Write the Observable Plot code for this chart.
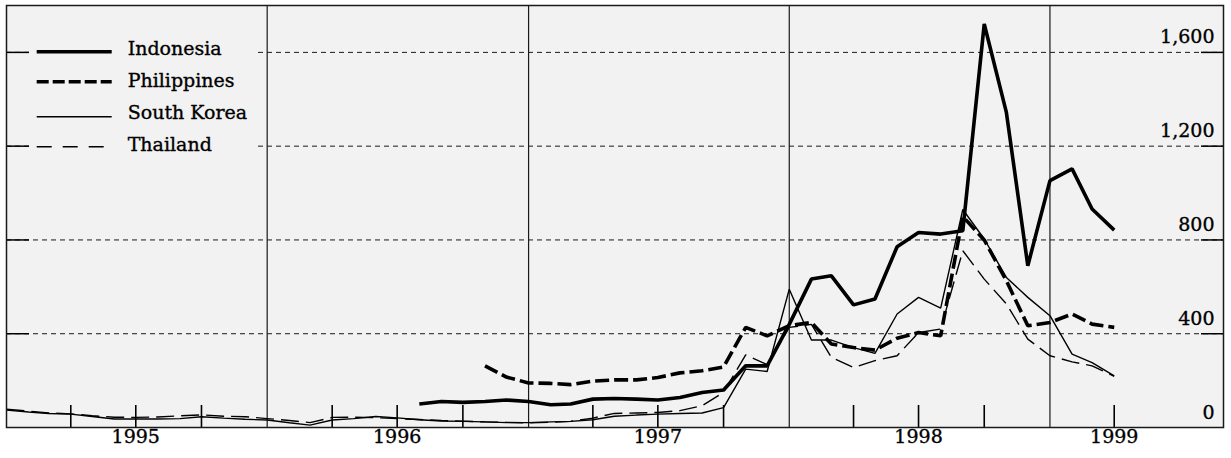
<!DOCTYPE html>
<html><head><meta charset="utf-8">
<script src="https://cdn.jsdelivr.net/npm/d3@7"></script>
<script src="https://cdn.jsdelivr.net/npm/@observablehq/plot@0.6"></script>
<style>
body{margin:0;background:#fff;font-family:"DejaVu Serif",serif;}
#wrap{position:relative;width:1231px;height:458px;}
#legend{position:absolute;left:29px;top:22px;width:226px;height:142px;background:#f2f2f2;}
#legend svg{display:block;}
text{paint-order:stroke;}
</style></head><body><div id="wrap"><div id="legend"></div></div>
<script>
// ---- data (monthly, spread in basis points) ----
const countries = ["Indonesia", "Philippines", "South Korea", "Thailand"];
const startMonths = {"Indonesia": "1996-08", "Philippines": "1996-11", "South Korea": "1995-01", "Thailand": "1995-01"};

const indonesia = [
  100, 111, 107, 111, 117,
  111, 97, 100, 121, 124, 121, 117, 128, 149, 160, 263, 263,
  440, 633, 647, 523, 548, 771, 832, 825, 839, 1721, 1344, 690,
  1053, 1103, 932, 842
];
const philippines = [
  263, 215,
  190, 188, 183, 198, 203, 203, 213, 233, 242, 258, 427, 391,
  434, 448, 356, 341, 330, 381, 405, 391, 900, 800, 626, 434,
  448, 484, 441, 427
];
const southKorea = [
  74, 66, 60, 57, 47, 36, 36, 36, 38, 46, 40, 35,
  32, 20, 10, 32, 38, 47, 41, 33, 28, 26, 24, 21,
  21, 24, 26, 33, 48, 53, 57, 60, 62, 85, 249, 239,
  590, 373, 373, 341, 316, 484, 555, 509, 930, 804, 640, 555,
  477, 313, 277, 220
];
const thailand = [
  78, 70, 62, 58, 50, 44, 43, 45, 50, 54, 48, 46,
  38, 30, 21, 43, 44, 42, 38, 34, 30, 27, 24, 22,
  20, 22, 26, 40, 60, 62, 64, 72, 93, 150, 310, 268,
  427, 440, 299, 256, 285, 306, 405, 420, 754, 633, 527, 377,
  306, 280, 263, 218
];

const gridValues = [400, 800, 1200, 1600];
const yLabelValues = [0, 400, 800, 1200, 1600];
const yearLines = ["1996-01", "1997-01", "1998-01", "1999-01"];
const quarterTicks = ["1995-04","1995-07","1995-10","1996-04","1996-07","1996-10","1997-04","1997-07","1997-10","1998-04","1998-07","1998-10","1999-04"];
const yearLabels = ["1995", "1996", "1997", "1998", "1999"];
const yearLabelMonths = ["1995-07", "1996-07", "1997-07", "1998-07", "1999-04"];
const xDomain = ["1995-01", "1999-09"];

// ---- styles ----
const styles = {
  "Indonesia":   {strokeWidth: 3.6, dash: null, legendDash: null},
  "Philippines": {strokeWidth: 3.6, dash: "14,5", legendDash: "12,4"},
  "South Korea": {strokeWidth: 1.4, dash: null, legendDash: null},
  "Thailand":    {strokeWidth: 1.4, dash: "18,7", legendDash: "15,11"}
};

const parseMonth = s => { const [y, m] = s.split("-").map(Number); return new Date(Date.UTC(y, m - 1, 1)); };
const seriesValues = {"Indonesia": indonesia, "Philippines": philippines, "South Korea": southKorea, "Thailand": thailand};
const series = countries.map(c => {
  const start = parseMonth(startMonths[c]);
  return {country: c, points: seriesValues[c].map((v, i) => ({date: d3.utcMonth.offset(start, i), value: v}))};
});

const ink = "#000";
const textOpts = {fill: ink, fontSize: 19, stroke: ink, strokeWidth: 0.35};
const chart = Plot.plot({
  width: 1231, height: 458,
  marginLeft: 6, marginRight: 8, marginTop: 5, marginBottom: 31,
  style: {fontFamily: '"DejaVu Serif", serif', fontSize: "19px", color: ink, background: "transparent"},
  x: {type: "utc", domain: xDomain.map(parseMonth), axis: null},
  y: {domain: [0, 1800], axis: null},
  marks: [
    Plot.frame({fill: "#f2f2f2", stroke: null}),
    Plot.ruleY(gridValues, {stroke: "#1a1a1a", strokeWidth: 1, strokeDasharray: "5,4"}),
    Plot.ruleX(yearLines.map(parseMonth), {stroke: "#1a1a1a", strokeWidth: 1.2}),
    Plot.axisX({ticks: quarterTicks.map(parseMonth), tickSize: -22, tickFormat: () => "", stroke: ink, strokeWidth: 1.6, label: null}),
    Plot.axisY({anchor: "left", ticks: gridValues, tickSize: -23, tickFormat: () => "", stroke: ink, strokeWidth: 1.5, label: null}),
    Plot.axisY({anchor: "right", ticks: gridValues, tickSize: -23, tickFormat: () => "", stroke: ink, strokeWidth: 1.5, label: null}),
    ...series.map(s => Plot.line(s.points, {
      x: "date", y: "value", stroke: "#000",
      strokeWidth: styles[s.country].strokeWidth,
      strokeDasharray: styles[s.country].dash,
      strokeLinejoin: "miter", strokeLinecap: "butt"
    })),
    Plot.text(yLabelValues, {y: d => d, frameAnchor: "right", dx: -9, dy: -15, textAnchor: "end", text: d => d3.format(",")(d), ...textOpts}),
    Plot.text(yearLabelMonths.map((m, i) => ({date: parseMonth(m), label: yearLabels[i]})), {x: "date", frameAnchor: "bottom", dy: 15, text: "label", ...textOpts}),
    Plot.frame({stroke: "#1a1a1a", strokeWidth: 1.5})
  ]
});
document.getElementById("wrap").prepend(chart);

// ---- legend ----
const lg = d3.select("#legend").append("svg").attr("width", 226).attr("height", 142);
const rowLineY = [29.7, 59.7, 94.7, 124.7];
const rowTextY = [32.5, 64.5, 97, 129];
countries.forEach((c, i) => {
  lg.append("line").attr("x1", 7.7).attr("x2", 82.7).attr("y1", rowLineY[i]).attr("y2", rowLineY[i])
    .attr("stroke", "#000").attr("stroke-width", styles[c].strokeWidth)
    .attr("stroke-dasharray", styles[c].legendDash);
  lg.append("text").attr("x", 98.7).attr("y", rowTextY[i]).attr("font-size", 19)
    .attr("font-family", '"DejaVu Serif", serif').attr("fill", ink)
    .attr("stroke", ink).attr("stroke-width", 0.35).text(c);
});
</script>
</body></html>
